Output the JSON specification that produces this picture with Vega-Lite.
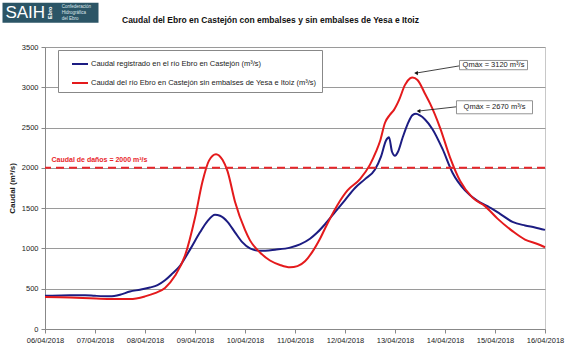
{
  "$schema": "https://vega.github.io/schema/vega-lite/v6.json",
  "width": 500,
  "height": 282,
  "autosize": {"type": "none"},
  "padding": {"left": 45, "top": 47, "right": 26, "bottom": 28},
  "background": "white",
  "config": {
    "font": "Liberation Sans",
    "view": {"stroke": "#c8c8c8", "strokeWidth": 1}
  },
  "title": {
    "text": "Caudal del Ebro en Castejón con embalses y sin embalses de Yesa e Itoiz",
    "anchor": "start",
    "frame": "group",
    "dx": 77,
    "offset": -22,
    "fontSize": 8.5,
    "fontWeight": "bold",
    "color": "#111111"
  },
  "datasets": {
    "series": [
      {"t": "2018-04-06T00:00", "v": 412, "s": "A"},
      {"t": "2018-04-06T12:00", "v": 418, "s": "A"},
      {"t": "2018-04-06T19:12", "v": 420, "s": "A"},
      {"t": "2018-04-07T00:00", "v": 412, "s": "A"},
      {"t": "2018-04-07T07:12", "v": 405, "s": "A"},
      {"t": "2018-04-07T12:00", "v": 425, "s": "A"},
      {"t": "2018-04-07T16:48", "v": 465, "s": "A"},
      {"t": "2018-04-07T21:36", "v": 488, "s": "A"},
      {"t": "2018-04-08T02:24", "v": 515, "s": "A"},
      {"t": "2018-04-08T06:00", "v": 545, "s": "A"},
      {"t": "2018-04-08T09:36", "v": 605, "s": "A"},
      {"t": "2018-04-08T13:12", "v": 690, "s": "A"},
      {"t": "2018-04-08T16:48", "v": 785, "s": "A"},
      {"t": "2018-04-08T21:36", "v": 985, "s": "A"},
      {"t": "2018-04-09T02:24", "v": 1200, "s": "A"},
      {"t": "2018-04-09T06:00", "v": 1340, "s": "A"},
      {"t": "2018-04-09T09:36", "v": 1418, "s": "A"},
      {"t": "2018-04-09T12:00", "v": 1405, "s": "A"},
      {"t": "2018-04-09T15:36", "v": 1330, "s": "A"},
      {"t": "2018-04-09T19:12", "v": 1200, "s": "A"},
      {"t": "2018-04-09T22:48", "v": 1075, "s": "A"},
      {"t": "2018-04-10T02:24", "v": 1000, "s": "A"},
      {"t": "2018-04-10T07:12", "v": 970, "s": "A"},
      {"t": "2018-04-10T14:24", "v": 985, "s": "A"},
      {"t": "2018-04-10T21:36", "v": 1010, "s": "A"},
      {"t": "2018-04-11T02:24", "v": 1050, "s": "A"},
      {"t": "2018-04-11T07:12", "v": 1120, "s": "A"},
      {"t": "2018-04-11T10:48", "v": 1200, "s": "A"},
      {"t": "2018-04-11T14:24", "v": 1300, "s": "A"},
      {"t": "2018-04-11T19:12", "v": 1450, "s": "A"},
      {"t": "2018-04-12T00:00", "v": 1600, "s": "A"},
      {"t": "2018-04-12T04:48", "v": 1750, "s": "A"},
      {"t": "2018-04-12T09:36", "v": 1860, "s": "A"},
      {"t": "2018-04-12T14:24", "v": 1980, "s": "A"},
      {"t": "2018-04-12T17:17", "v": 2140, "s": "A"},
      {"t": "2018-04-12T19:41", "v": 2340, "s": "A"},
      {"t": "2018-04-12T21:07", "v": 2380, "s": "A"},
      {"t": "2018-04-12T22:34", "v": 2200, "s": "A"},
      {"t": "2018-04-13T00:00", "v": 2150, "s": "A"},
      {"t": "2018-04-13T01:26", "v": 2200, "s": "A"},
      {"t": "2018-04-13T03:36", "v": 2370, "s": "A"},
      {"t": "2018-04-13T06:00", "v": 2540, "s": "A"},
      {"t": "2018-04-13T08:24", "v": 2655, "s": "A"},
      {"t": "2018-04-13T10:05", "v": 2670, "s": "A"},
      {"t": "2018-04-13T12:00", "v": 2650, "s": "A"},
      {"t": "2018-04-13T14:24", "v": 2600, "s": "A"},
      {"t": "2018-04-13T18:00", "v": 2480, "s": "A"},
      {"t": "2018-04-13T22:48", "v": 2235, "s": "A"},
      {"t": "2018-04-14T03:36", "v": 1940, "s": "A"},
      {"t": "2018-04-14T09:36", "v": 1720, "s": "A"},
      {"t": "2018-04-14T15:36", "v": 1590, "s": "A"},
      {"t": "2018-04-14T20:24", "v": 1525, "s": "A"},
      {"t": "2018-04-15T02:24", "v": 1430, "s": "A"},
      {"t": "2018-04-15T08:24", "v": 1330, "s": "A"},
      {"t": "2018-04-15T14:24", "v": 1285, "s": "A"},
      {"t": "2018-04-15T19:12", "v": 1260, "s": "A"},
      {"t": "2018-04-16T00:00", "v": 1230, "s": "A"},
      {"t": "2018-04-06T00:00", "v": 398, "s": "B"},
      {"t": "2018-04-06T12:00", "v": 392, "s": "B"},
      {"t": "2018-04-06T21:36", "v": 382, "s": "B"},
      {"t": "2018-04-07T07:12", "v": 373, "s": "B"},
      {"t": "2018-04-07T16:48", "v": 372, "s": "B"},
      {"t": "2018-04-08T00:00", "v": 405, "s": "B"},
      {"t": "2018-04-08T04:48", "v": 445, "s": "B"},
      {"t": "2018-04-08T09:36", "v": 510, "s": "B"},
      {"t": "2018-04-08T14:24", "v": 660, "s": "B"},
      {"t": "2018-04-08T19:12", "v": 910, "s": "B"},
      {"t": "2018-04-09T00:00", "v": 1380, "s": "B"},
      {"t": "2018-04-09T03:36", "v": 1830, "s": "B"},
      {"t": "2018-04-09T06:43", "v": 2090, "s": "B"},
      {"t": "2018-04-09T10:05", "v": 2170, "s": "B"},
      {"t": "2018-04-09T13:12", "v": 2100, "s": "B"},
      {"t": "2018-04-09T15:36", "v": 1960, "s": "B"},
      {"t": "2018-04-09T19:12", "v": 1580, "s": "B"},
      {"t": "2018-04-10T00:00", "v": 1230, "s": "B"},
      {"t": "2018-04-10T02:24", "v": 1100, "s": "B"},
      {"t": "2018-04-10T07:12", "v": 950, "s": "B"},
      {"t": "2018-04-10T12:00", "v": 850, "s": "B"},
      {"t": "2018-04-10T16:48", "v": 795, "s": "B"},
      {"t": "2018-04-10T21:36", "v": 765, "s": "B"},
      {"t": "2018-04-11T01:12", "v": 780, "s": "B"},
      {"t": "2018-04-11T04:48", "v": 840, "s": "B"},
      {"t": "2018-04-11T08:24", "v": 960, "s": "B"},
      {"t": "2018-04-11T12:00", "v": 1120, "s": "B"},
      {"t": "2018-04-11T15:36", "v": 1310, "s": "B"},
      {"t": "2018-04-11T20:24", "v": 1540, "s": "B"},
      {"t": "2018-04-12T01:12", "v": 1720, "s": "B"},
      {"t": "2018-04-12T07:12", "v": 1860, "s": "B"},
      {"t": "2018-04-12T12:00", "v": 2040, "s": "B"},
      {"t": "2018-04-12T14:53", "v": 2200, "s": "B"},
      {"t": "2018-04-12T16:48", "v": 2330, "s": "B"},
      {"t": "2018-04-12T19:12", "v": 2560, "s": "B"},
      {"t": "2018-04-12T21:36", "v": 2660, "s": "B"},
      {"t": "2018-04-12T23:31", "v": 2720, "s": "B"},
      {"t": "2018-04-13T01:55", "v": 2840, "s": "B"},
      {"t": "2018-04-13T04:48", "v": 3030, "s": "B"},
      {"t": "2018-04-13T07:12", "v": 3110, "s": "B"},
      {"t": "2018-04-13T08:24", "v": 3120, "s": "B"},
      {"t": "2018-04-13T10:48", "v": 3090, "s": "B"},
      {"t": "2018-04-13T14:24", "v": 2920, "s": "B"},
      {"t": "2018-04-13T16:48", "v": 2800, "s": "B"},
      {"t": "2018-04-13T21:36", "v": 2500, "s": "B"},
      {"t": "2018-04-14T02:24", "v": 2130, "s": "B"},
      {"t": "2018-04-14T07:12", "v": 1840, "s": "B"},
      {"t": "2018-04-14T13:12", "v": 1630, "s": "B"},
      {"t": "2018-04-14T19:12", "v": 1525, "s": "B"},
      {"t": "2018-04-15T01:12", "v": 1370, "s": "B"},
      {"t": "2018-04-15T08:24", "v": 1215, "s": "B"},
      {"t": "2018-04-15T14:24", "v": 1110, "s": "B"},
      {"t": "2018-04-15T20:24", "v": 1055, "s": "B"},
      {"t": "2018-04-16T00:00", "v": 1015, "s": "B"}
    ],
    "boxes": [
      {"t": "2018-04-14T06:58", "t2": "2018-04-15T15:36", "v": 3333, "v2": 3218, "tm": "2018-04-14T23:17", "vm": 3275, "label": "Qmáx = 3120 m³/s"},
      {"t": "2018-04-14T05:31", "t2": "2018-04-15T18:00", "v": 2833, "v2": 2671, "tm": "2018-04-14T23:46", "vm": 2752, "label": "Qmáx = 2670 m³/s"}
    ],
    "arrows": [
      {"t": "2018-04-14T06:58", "v": 3266, "t2": "2018-04-13T10:05", "v2": 3176},
      {"t": "2018-04-14T05:31", "v": 2758, "t2": "2018-04-13T11:17", "v2": 2705}
    ]
  },
  "layer": [
    {
      "data": {"name": "series"},
      "mark": {"type": "line", "interpolate": "monotone", "strokeWidth": 2},
      "encoding": {
        "x": {
          "field": "t",
          "type": "temporal",
          "scale": {"domain": [{"year": 2018, "month": 4, "date": 6}, {"year": 2018, "month": 4, "date": 16}]},
          "axis": {
            "format": "%d/%m/%Y",
            "tickCount": {"interval": "day", "step": 1},
            "title": null,
            "grid": false,
            "labelFontSize": 7.5,
            "labelColor": "#222222",
            "labelPadding": 3,
            "labelFlush": false,
            "labelOverlap": false,
            "tickSize": 4,
            "tickColor": "#888888",
            "domainColor": "#888888"
          }
        },
        "y": {
          "field": "v",
          "type": "quantitative",
          "scale": {"domain": [0, 3500], "nice": false},
          "axis": {
            "values": [0, 500, 1000, 1500, 2000, 2500, 3000, 3500],
            "format": "d",
            "title": "Caudal (m³/s)",
            "titleFontSize": 8,
            "titleFontWeight": "bold",
            "titleColor": "#222222",
            "titlePadding": 5,
            "labelFontSize": 7.5,
            "labelColor": "#222222",
            "labelPadding": 3,
            "tickSize": 4,
            "tickColor": "#888888",
            "domainColor": "#888888",
            "grid": true,
            "gridColor": "#9a9a9a",
            "labelFlush": false
          }
        },
        "color": {
          "field": "s",
          "type": "nominal",
          "scale": {"domain": ["A", "B"], "range": ["#1c1c82", "#e41a1c"]},
          "legend": {
            "orient": "none",
            "legendX": 13,
            "legendY": 3,
            "title": null,
            "labelExpr": "datum.value == 'A' ? 'Caudal registrado en el río Ebro en Castejón (m³/s)' : 'Caudal del río Ebro en Castejón sin embalses de Yesa e Itoiz (m³/s)'",
            "labelLimit": 400,
            "symbolType": "stroke",
            "symbolSize": 256,
            "symbolStrokeWidth": 2,
            "symbolOffset": 8,
            "labelFontSize": 7.5,
            "labelColor": "#222222",
            "labelOffset": 2,
            "rowPadding": 6,
            "padding": 5,
            "strokeColor": "#888888",
            "fillColor": "white"
          }
        }
      }
    },
    {
      "data": {"values": [{"v": 2000}]},
      "mark": {"type": "rule", "color": "#e8262a", "strokeWidth": 2, "strokeDash": [8, 5]},
      "encoding": {"y": {"field": "v", "type": "quantitative"}}
    },
    {
      "data": {"values": [{"t": "2018-04-06T03:07", "v": 2100, "label": "Caudal de daños = 2000 m³/s"}]},
      "mark": {"type": "text", "align": "left", "baseline": "middle", "fontSize": 7, "fontWeight": "bold", "color": "#e8262a"},
      "encoding": {
        "x": {"field": "t", "type": "temporal"},
        "y": {"field": "v", "type": "quantitative"},
        "text": {"field": "label"}
      }
    },
    {
      "data": {"name": "arrows"},
      "mark": {"type": "rule", "color": "#111111", "strokeWidth": 0.8},
      "encoding": {
        "x": {"field": "t", "type": "temporal"},
        "x2": {"field": "t2"},
        "y": {"field": "v", "type": "quantitative"},
        "y2": {"field": "v2"}
      }
    },
    {
      "data": {"name": "arrows"},
      "mark": {"type": "point", "shape": "triangle-left", "filled": true, "size": 18, "color": "#111111", "opacity": 1},
      "encoding": {
        "x": {"field": "t2", "type": "temporal"},
        "y": {"field": "v2", "type": "quantitative"}
      }
    },
    {
      "data": {"name": "boxes"},
      "mark": {"type": "rect", "fill": "white", "stroke": "#777777", "strokeWidth": 0.8},
      "encoding": {
        "x": {"field": "t", "type": "temporal"},
        "x2": {"field": "t2"},
        "y": {"field": "v", "type": "quantitative"},
        "y2": {"field": "v2"}
      }
    },
    {
      "data": {"name": "boxes"},
      "mark": {"type": "text", "align": "center", "baseline": "middle", "fontSize": 7.5, "color": "#222222"},
      "encoding": {
        "x": {"field": "tm", "type": "temporal"},
        "y": {"field": "vm", "type": "quantitative"},
        "text": {"field": "label"}
      }
    },
    {
      "data": {"values": [{"t": "2018-04-05T03:36", "t2": "2018-04-07T01:41", "v": 4048, "v2": 3800}]},
      "mark": {"type": "rect", "fill": "#2b5566"},
      "encoding": {
        "x": {"field": "t", "type": "temporal"},
        "x2": {"field": "t2"},
        "y": {"field": "v", "type": "quantitative"},
        "y2": {"field": "v2"}
      }
    },
    {
      "data": {"values": [{"t": "2018-04-05T05:00", "v": 3920, "label": "SAIH"}]},
      "mark": {"type": "text", "align": "left", "baseline": "middle", "fontSize": 17, "color": "white"},
      "encoding": {
        "x": {"field": "t", "type": "temporal"},
        "y": {"field": "v", "type": "quantitative"},
        "text": {"field": "label"}
      }
    },
    {
      "data": {"values": [{"t": "2018-04-06T02:30", "v": 3924, "label": "Ebro"}]},
      "mark": {"type": "text", "align": "center", "baseline": "middle", "fontSize": 5.5, "fontWeight": "bold", "angle": 270, "color": "white"},
      "encoding": {
        "x": {"field": "t", "type": "temporal"},
        "y": {"field": "v", "type": "quantitative"},
        "text": {"field": "label"}
      }
    },
    {
      "data": {"values": [
        {"t": "2018-04-06T08:00", "v": 4000, "label": "Confederación"},
        {"t": "2018-04-06T08:00", "v": 3925, "label": "Hidrográfica"},
        {"t": "2018-04-06T08:00", "v": 3850, "label": "del Ebro"}
      ]},
      "mark": {"type": "text", "align": "left", "baseline": "middle", "fontSize": 4.5, "color": "#dde6ea"},
      "encoding": {
        "x": {"field": "t", "type": "temporal"},
        "y": {"field": "v", "type": "quantitative"},
        "text": {"field": "label"}
      }
    }
  ]
}
